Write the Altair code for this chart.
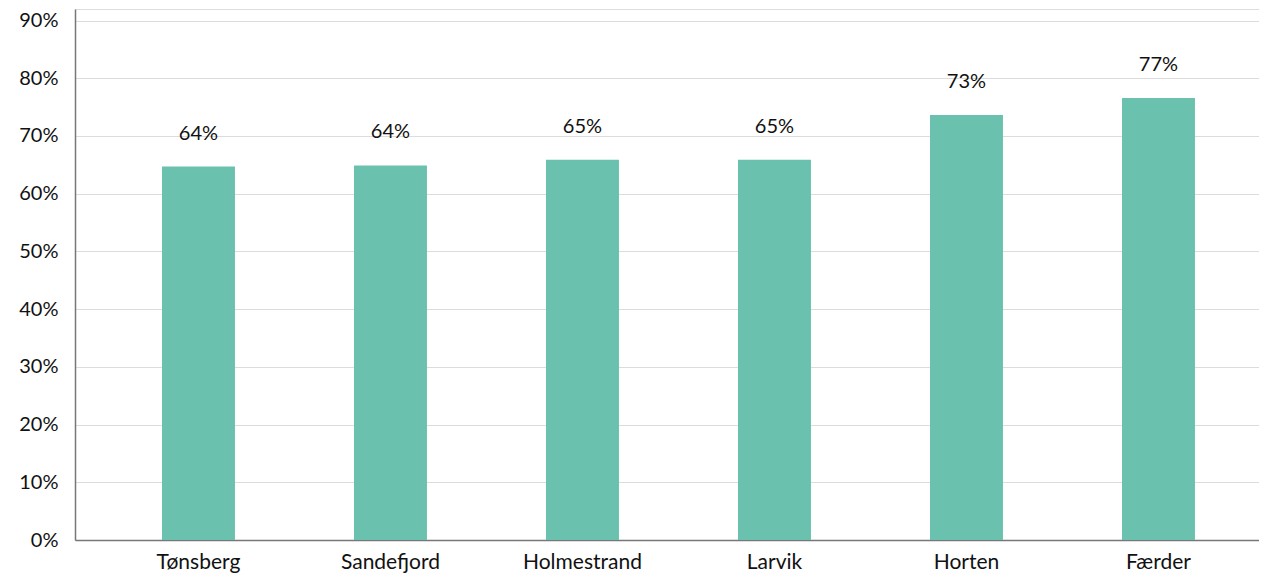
import altair as alt
import pandas as pd

categories = ["Tønsberg", "Sandefjord", "Holmestrand", "Larvik", "Horten", "Færder"]
values = [0.647, 0.649, 0.659, 0.659, 0.7365, 0.766]
labels = ["64%", "64%", "65%", "65%", "73%", "77%"]
y_ticks = [0, 0.1, 0.2, 0.3, 0.4, 0.5, 0.6, 0.7, 0.8, 0.9]

df = pd.DataFrame({"kommune": categories, "andel": values, "label": labels})

FONT = "Lato"

x = alt.X(
    "kommune:N",
    sort=categories,
    title=None,
    scale=alt.Scale(paddingInner=0.62, paddingOuter=0.3933, align=0.576),
    axis=alt.Axis(
        labelAngle=0, labelFontSize=21, labelColor="#111111", labelFont=FONT,
        labelPadding=11, ticks=False, domainColor="#777777", domainWidth=1.5,
        grid=False,
    ),
)
y = alt.Y(
    "andel:Q",
    title=None,
    scale=alt.Scale(domain=[0, 0.92], nice=False),
    axis=alt.Axis(
        values=y_ticks, format=".0%", labelFontSize=20, labelColor="#111111",
        labelFont=FONT, labelPadding=17, ticks=False, domainColor="#777777",
        domainWidth=1.5, gridColor="#dcdcdc", gridWidth=1.2,
    ),
)

bars = alt.Chart(df).mark_bar(color="#6AC1AD").encode(x=x, y=y)
text = alt.Chart(df).mark_text(
    dy=-33, baseline="middle", fontSize=20, font=FONT, color="#111111"
).encode(x=x, y=y, text="label:N")

chart = (
    (bars + text)
    .properties(width=1184, height=531, autosize=alt.AutoSizeParams(type="none"),
                padding={"left": 67, "top": 1, "right": 0, "bottom": 34})
    .configure_view(stroke=None)
    .configure(background="white")
)

chart.save("out.html", embed_options={"renderer": "svg", "actions": False})
